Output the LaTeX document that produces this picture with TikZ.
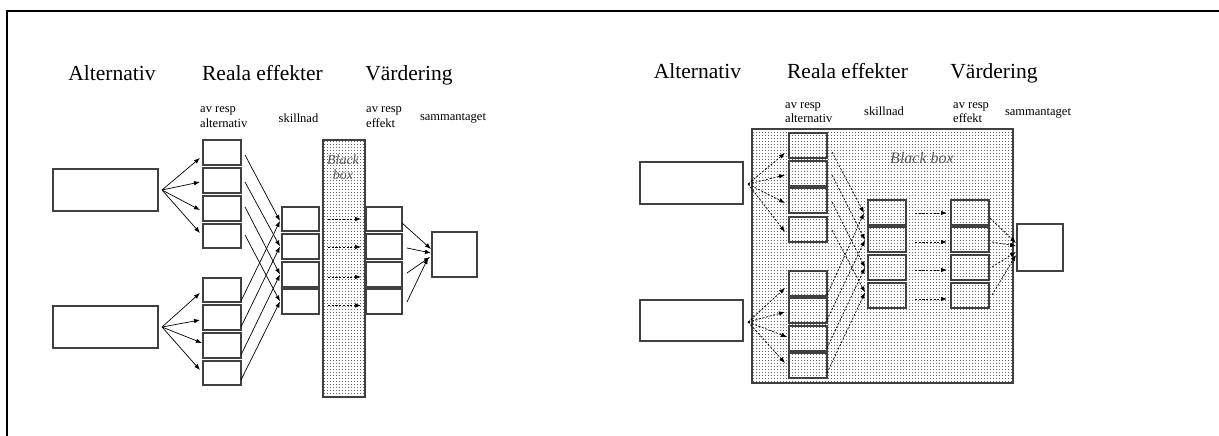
\documentclass[tikz,border=0pt]{standalone}
\usepackage{fontspec}
\setmainfont{Liberation Serif}
\usetikzlibrary{arrows.meta,patterns}
\pgfdeclarepatternformonly{fdots}{\pgfqpoint{-0.2pt}{-0.2pt}}{\pgfqpoint{3.2pt}{3.2pt}}{\pgfqpoint{3pt}{3pt}}{\pgfpathrectangle{\pgfpointorigin}{\pgfqpoint{1pt}{1pt}}\pgfusepath{fill}}
\newcommand\bxat[6]{\node[#6, minimum width={#4-#2}, minimum height={#5-#3}] (#1) at ({(#2+#4)/2},{(#3+#5)/2}) {};}
\begin{document}
\begin{tikzpicture}[x=1pt,y=-1pt,
  bx/.style={draw=black!75, line width=1.1pt, fill=white, inner sep=0pt, outer sep=0pt},
  bxc/.style={draw=black!75, line width=1.1pt, inner sep=0pt, outer sep=0pt},
  bb/.style={draw=black!75, line width=1.1pt, pattern=fdots, pattern color=black!60, inner sep=0pt, outer sep=0pt},
  ar/.style={-{Latex[length=6pt,width=4.5pt]}, line width=0.7pt},
  dar/.style={ar, dash pattern=on 2.2pt off 1.5pt},
  big/.style={font=\fontsize{21.5}{24}\selectfont, anchor=base, inner sep=0pt},
  sm/.style={font=\fontsize{12.5}{14}\selectfont, anchor=base west, inner sep=0pt},
  smc/.style={font=\fontsize{12.5}{14}\selectfont, anchor=base, inner sep=0pt},
  bbt/.style={font=\itshape\fontsize{14}{16}\selectfont, text=black!65, anchor=base, inner sep=0pt}
]
\useasboundingbox (0,0) rectangle (1219,436);
\draw[line width=2pt] (7,436) -- (7,11) -- (1219,11);

% ---------------- left diagram ----------------
\node[big] (tLalt) at (112,81) {Alternativ};
\node[big] (tLre) at (262.5,81) {Reala effekter};
\node[big] (tLv) at (409,81) {Värdering};
\node[sm] (tLav1) at (200,112) {av resp};
\node[sm] (tLav2) at (200,127) {alternativ};
\node[smc] (tLsk) at (298.5,122) {skillnad};
\node[sm] (tLef1) at (366,112) {av resp};
\node[sm] (tLef2) at (366,127) {effekt};
\node[smc] (tLsam) at (453,121) {sammantaget};

\bxat{LBB}{323}{140}{365}{397}{bb}
\node[bbt] (tLbb1) at (343,164) {Black};
\node[bbt] (tLbb2) at (343,179) {box};

\bxat{La}{53}{169}{158}{211}{bx}
\bxat{Lb}{53}{306}{158}{348}{bx}
\foreach \n/\t/\b in {1/140/165, 2/168/193, 3/196/221, 4/224/248, 5/278/302, 6/305/330, 7/333/358, 8/361/385}
  {\bxat{LA\n}{203}{\t}{241}{\b}{bx}}
\foreach \n/\t/\b in {1/207/231, 2/234/259, 3/262/287, 4/289/314}
  {\bxat{LS\n}{282}{\t}{319}{\b}{bx}\bxat{LE\n}{366}{\t}{402}{\b}{bx}}
\bxat{LSum}{432}{232}{477}{277}{bx}

\draw[ar] ([shift={(4,0)}]La.east) -- ([shift={(-3,5.5)}]LA1.west);
\draw[ar] ([shift={(4,0)}]La.east) -- ([shift={(-3,1.5)}]LA2.west);
\draw[ar] ([shift={(4,0)}]La.east) -- ([shift={(-3,1.5)}]LA3.west);
\draw[ar] ([shift={(4,0)}]La.east) -- ([shift={(-3,-3)}]LA4.west);
\draw[ar] ([shift={(4,0)}]Lb.east) -- ([shift={(-3,3)}]LA5.west);
\draw[ar] ([shift={(4,0)}]Lb.east) -- ([shift={(-3,2.5)}]LA6.west);
\draw[ar] ([shift={(4,0)}]Lb.east) -- ([shift={(-1,-2.5)}]LA7.west);
\draw[ar] ([shift={(4,0)}]Lb.east) -- ([shift={(-3,-3)}]LA8.west);

\draw[ar] ([shift={(4,2.5)}]LA1.east) -- ([shift={(-2,2)}]LS1.west);
\draw[ar] ([shift={(4,1.5)}]LA2.east) -- ([shift={(-2,0)}]LS2.west);
\draw[ar] ([shift={(4,-1.5)}]LA3.east) -- ([shift={(-2,0)}]LS3.west);
\draw[ar] ([shift={(4,-1)}]LA4.east) -- ([shift={(-2,0)}]LS4.west);
\draw[ar] ([shift={(0,-1)}]LA5.south east) -- ([shift={(-2,2)}]LS1.west);
\draw[ar] ([shift={(0,-3)}]LA6.south east) -- ([shift={(-2,0)}]LS2.west);
\draw[ar] ([shift={(0,-3)}]LA7.south east) -- ([shift={(-2,0)}]LS3.west);
\draw[ar] ([shift={(0,-5)}]LA8.south east) -- ([shift={(-2,0)}]LS4.west);

\draw[dar] ([shift={(9,0)}]LS1.east) -- ([shift={(-5,0)}]LE1.west);
\draw[dar] ([shift={(9,0.5)}]LS2.east) -- ([shift={(-5,0.5)}]LE2.west);
\draw[dar] ([shift={(9,2.5)}]LS3.east) -- ([shift={(-5,2.5)}]LE3.west);
\draw[dar] ([shift={(9,4)}]LS4.east) -- ([shift={(-5,4)}]LE4.west);

\draw[ar] ([shift={(0,4)}]LE1.east) -- ([shift={(-1,-5.5)}]LSum.west);
\draw[ar] ([shift={(5,1.5)}]LE2.east) -- ([shift={(-1,-1.5)}]LSum.west);
\draw[ar] ([shift={(5,-1.5)}]LE3.east) -- ([shift={(-2,2.5)}]LSum.west);
\draw[ar] ([shift={(5,0.5)}]LE4.east) -- ([shift={(-4,3.5)}]LSum.west);

% ---------------- right diagram ----------------
\node[big] (tRalt) at (697.5,79) {Alternativ};
\node[big] (tRre) at (847.5,79) {Reala effekter};
\node[big] (tRv) at (994,79) {Värdering};
\node[sm] (tRav1) at (785,109) {av resp};
\node[sm] (tRav2) at (785,122) {alternativ};
\node[smc] (tRsk) at (884,116) {skillnad};
\node[sm] (tRef1) at (953,109) {av resp};
\node[sm] (tRef2) at (953,122) {effekt};
\node[smc] (tRsam) at (1038,116) {sammantaget};

\bxat{RBB}{752}{129}{1013}{383}{bb}
\node[bbt, font=\itshape\fontsize{16}{18}\selectfont] (tRbb) at (922,163) {Black box};

\bxat{Ra}{640}{162}{743}{204}{bx}
\bxat{Rb}{640}{300}{743}{341}{bx}
\foreach \n/\t/\b in {1/133/158, 2/161/186, 3/188/213, 4/217/242, 5/271/296, 6/298/323, 7/326/351, 8/353/378}
  {\bxat{RA\n}{789}{\t}{827}{\b}{bxc}}
\foreach \n/\t/\b in {1/200/225, 2/227/252, 3/255/280, 4/283/308}
  {\bxat{RS\n}{868}{\t}{906}{\b}{bxc}\bxat{RE\n}{951}{\t}{989}{\b}{bxc}}
\bxat{RSum}{1017}{224}{1063}{271}{bx}

\draw[dar] ([shift={(5,1)}]Ra.east) -- ([shift={(-4,7.5)}]RA1.west);
\draw[dar] ([shift={(5,1)}]Ra.east) -- ([shift={(-4,1.5)}]RA2.west);
\draw[dar] ([shift={(5,1)}]Ra.east) -- ([shift={(-4,2.5)}]RA3.west);
\draw[dar] ([shift={(5,1)}]Ra.east) -- ([shift={(-4,2.5)}]RA4.west);
\draw[dar] ([shift={(5,1.5)}]Rb.east) -- ([shift={(-4,4.5)}]RA5.west);
\draw[dar] ([shift={(5,1.5)}]Rb.east) -- ([shift={(-4,1.5)}]RA6.west);
\draw[dar] ([shift={(5,1.5)}]Rb.east) -- ([shift={(-2,-1.5)}]RA7.west);
\draw[dar] ([shift={(5,1.5)}]Rb.east) -- ([shift={(-4,-2.5)}]RA8.west);

\draw[dar] ([shift={(5,6.5)}]RA1.east) -- ([shift={(-4,0.5)}]RS1.west);
\draw[dar] ([shift={(5,1.5)}]RA2.east) -- ([shift={(-3,0.5)}]RS2.west);
\draw[dar] ([shift={(5,1.5)}]RA3.east) -- ([shift={(-3,0)}]RS3.west);
\draw[dar] ([shift={(5,0.5)}]RA4.east) -- ([shift={(-3,-3)}]RS4.west);
\draw[dar] ([shift={(0,-1)}]RA5.south east) -- ([shift={(-4,0.5)}]RS1.west);
\draw[dar] ([shift={(0,-3)}]RA6.south east) -- ([shift={(-3,0.5)}]RS2.west);
\draw[dar] ([shift={(0,-3)}]RA7.south east) -- ([shift={(-3,0)}]RS3.west);
\draw[dar] ([shift={(0,-5)}]RA8.south east) -- ([shift={(-3,-3)}]RS4.west);

\draw[dar] ([shift={(9,0.5)}]RS1.east) -- ([shift={(-4,0.5)}]RE1.west);
\draw[dar] ([shift={(9,2.5)}]RS2.east) -- ([shift={(-4,2.5)}]RE2.west);
\draw[dar] ([shift={(9,2.5)}]RS3.east) -- ([shift={(-4,2.5)}]RE3.west);
\draw[dar] ([shift={(9,3.5)}]RS4.east) -- ([shift={(-4,3.5)}]RE4.west);

\draw[dar] ([shift={(1,5.5)}]RE1.east) -- ([shift={(-1,-4.5)}]RSum.west);
\draw[dar] ([shift={(3,2.5)}]RE2.east) -- ([shift={(-1,-1.5)}]RSum.west);
\draw[dar] ([shift={(3,-0.5)}]RE3.east) -- ([shift={(-1,4.5)}]RSum.west);
\draw[dar] ([shift={(3,-0.5)}]RE4.east) -- ([shift={(-1,7.5)}]RSum.west);
\end{tikzpicture}
\end{document}
